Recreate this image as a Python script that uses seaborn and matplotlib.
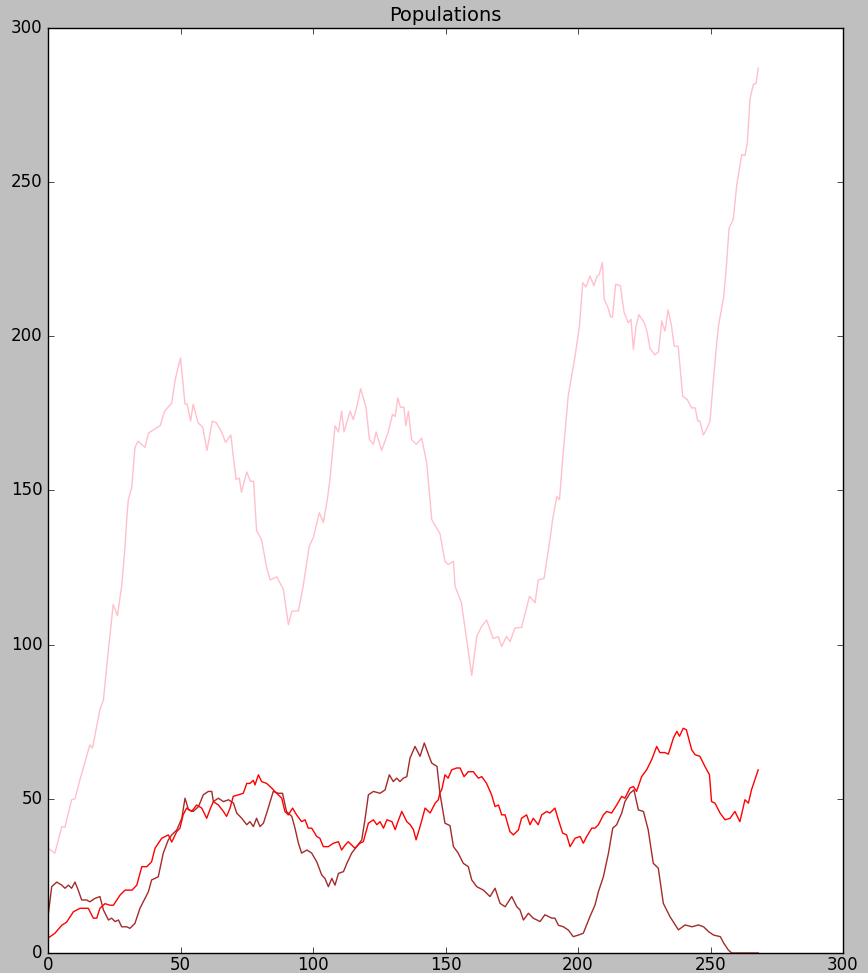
import matplotlib
matplotlib.use("Agg")
import matplotlib.pyplot as plt
import seaborn as sns
import pandas as pd

# ---- data ----
pink_t = [0, 2.6, 5.2, 6.4, 8.9, 10.2, 12, 15.8, 16.8, 19.6, 20.9, 22.8, 24.6, 26.2, 27.8, 29, 29.7, 30.3,
          31.6, 32.8, 34, 36.6, 37.9, 40.4, 42.3, 44, 46.7, 48, 50, 51.7, 52.5, 53.8, 54.8, 56.6, 58.4, 60,
          62, 63.5, 65.5, 67, 69, 70.2, 71, 72.2, 73, 75, 76.4, 77.6, 78, 78.7, 80.6, 82.5, 83.8, 86.3, 88.8,
          90.7, 92, 94.5, 96.3, 98.6, 100.1, 102.4, 103.9, 105.4, 106.4, 108.3, 109.6, 110.8, 111.7, 114,
          115.2, 116.5, 118, 120, 121.3, 122.8, 123.8, 125.9, 128.4, 130, 131, 132, 133, 134.3, 135, 136,
          137.2, 139, 141, 142.9, 144.8, 147.9, 149.8, 151, 153, 153.6, 156, 158, 159.9, 161.8, 163.7, 165.5,
          168, 169.9, 171.2, 173, 174.4, 176.2, 178.7, 180, 181.7, 183.8, 185, 187.2, 189.4, 190.5, 192, 193,
          194.4, 196.3, 197.6, 198.9, 200.5, 201.8, 203, 204.5, 206, 207.2, 208, 209.2, 209.9, 211.3, 212.3,
          213, 214.2, 216, 217.4, 219, 220, 220.9, 221.9, 223, 225, 226, 227.2, 229, 230.4, 231.6, 232.8, 234,
          235.3, 236.3, 237.8, 239.5, 241.2, 242.9, 244.2, 245.2, 246, 247.3, 248.6, 249.8, 250.8, 252, 253,
          255, 256, 257, 258.6, 259.9, 261.8, 263, 263.9, 264.9, 266.2, 267.2, 268]
pink_v = [34, 32.4, 41, 40.8, 49.7, 50, 56, 67.5, 66.5, 79, 82, 98.4, 113, 109.4, 119, 131, 140.6, 147,
          151, 164, 166, 164, 168.6, 170, 171, 175.7, 178.4, 186, 193, 178, 178, 172.5, 178, 172, 170.5, 163,
          172.5, 172, 169, 165.6, 168, 159, 153.6, 154, 149.4, 156, 153, 153, 147, 137, 134, 125, 121, 122, 118,
          106.5, 110.8, 111, 119, 132, 134.7, 142.8, 139.6, 147, 153.6, 171, 169, 175.7, 169, 175.7,
          173, 177, 183, 177, 166.5, 165, 169, 163, 169, 174.7, 174, 180, 177, 177, 171, 175.7,
          166.5, 165, 167, 159, 140.6, 136, 127, 126, 127, 119, 113.6, 101.6, 90, 102.7, 106, 108,
          102, 102.6, 99.4, 102.7, 101, 105.4, 105.6, 110, 115.7, 113.6, 121, 121.5, 134, 141, 148, 147,
          162, 180.6, 187, 193.6, 203, 217.4, 216, 219.6, 216.4, 219.6, 220, 224, 212, 209.3, 206.3,
          206.3, 216.9, 216.4, 207.7, 204.4, 205.5, 195.8, 203.3, 207, 204.4, 201.7, 196, 194, 195, 205, 201.7, 208.6,
          203.3, 196.8, 196.8, 180.6, 179.5, 176.8, 176.8, 172.5, 172.5, 168, 170, 172.5, 182.8, 194.7, 203.3,
          213, 222.8, 235, 238, 249, 259, 258.6, 262.8, 277, 281.8, 282, 287]

red_t = [0, 2.6, 5.2, 7, 9.6, 12.1, 15.2, 17.1, 18.4, 19.6, 21.5, 23.4, 24.7, 27.2, 29.1, 31.7, 33.5, 35.4,
         37.3, 39.1, 40.4, 42.9, 45.4, 46.7, 48.6, 49.8, 51, 52.3, 54.2, 56.1, 58, 59.9, 61.1, 62.4, 64.3,
         66.2, 67.4, 68.7, 69.9, 71.8, 73.7, 75, 76.2, 77.5, 78.1, 79.4, 80.6, 82.5, 84.4, 86.3, 88.2, 89.4,
         90.7, 92.3, 93.8, 95.7, 97, 98.2, 99.5, 101.4, 102.6, 103.9, 105.8, 107.7, 109.6, 110.8, 112.1,
         113.3, 114.6, 115.8, 117.7, 119, 120.9, 122.8, 124.1, 125.3, 126.6, 127.9, 129.8, 131, 132.3,
         133.5, 135.4, 136.7, 137.9, 138.9, 140.4, 142.3, 144.2, 146.1, 147.3, 147.9, 148.6, 149.8, 151,
         152.3, 154.2, 155.5, 157, 158.6, 160.5, 162.4, 163.7, 165.5, 167.4, 168.7, 170, 171.2, 172.5, 174.3,
         175.6, 177.5, 178.7, 180.6, 181.9, 183.1, 185, 186.3, 188.2, 189.4, 191.3, 192.6, 194.2, 195.7, 197,
         198.9, 200.8, 202, 203.3, 205.2, 206.4, 207.7, 209.6, 210.8, 212.7, 214.6, 216.5, 217.7, 219.6,
         220.9, 222.1, 224, 225.9, 227.8, 229.7, 230.9, 232.8, 234.1, 236, 237.3, 238.3, 239.7, 240.9,
         242.9, 244.2, 246, 247.9, 249.6, 250.4, 251.7, 253.6, 255.5, 257.4, 259.2, 261.1, 263, 264.3,
         265.5, 268]
red_v = [4.8, 6.4, 9, 10, 13.4, 14.5, 14.5, 11.3, 11.3, 14.5, 16, 15.5, 15.5, 18.8, 20.4, 20.4, 22, 28,
         28, 29.6, 34, 37.2, 38.3, 36, 39.4, 40.5, 44.8, 47, 45.9, 48, 47, 43.7, 46.5, 49.1, 48,
         45.9, 44.3, 47, 50.8, 51.3, 51.8, 55, 55, 56, 54.5, 57.8, 55.6, 55, 53.5, 51.8, 50.2, 45.9,
         44.8, 47, 44.8, 42.6, 43.2, 40.5, 40.5, 37.8, 37.2, 34.5, 34.5, 35.6, 36.1, 33.4, 35,
         36.1, 35, 34, 35.6, 36.1, 42.1, 43.2, 41.6, 42.6, 40.5, 43.2, 42.6, 40, 43.2,
         45.9, 42.6, 41.6, 40, 36.7, 41, 47, 45.4, 48.6, 49.7, 52, 53, 57.8, 56.7,
         59.4, 60, 60, 57.2, 58.8, 58.8, 56.7, 57.2, 55, 51.3, 47.5, 48, 44.8, 44.8, 39.4,
         38.3, 39.9, 43.7, 44.8, 41.6, 43.7, 41.6, 44.8, 45.9, 45.4, 47, 43.2, 38.9, 38.3, 34.5,
         37.2, 37.8, 35.6, 37.8, 40.5, 40.5, 41.6, 44.8, 45.9, 45.4, 48, 50.8, 50.2, 53.5,
         54, 52.4, 57.2, 59.4, 62.7, 67, 65, 65, 64.5, 69.7, 71.9, 70.3, 72.9, 72.4,
         65.9, 64.3, 63.8, 60.5, 57.8, 49.1, 48.6, 45.4, 43.2, 43.7, 45.9, 42.6, 49.7, 48.6,
         53, 59.4]

brown_t = [0, 1.4, 3.3, 5.2, 6.4, 7.7, 8.9, 10.2, 11.4, 12.7, 14.6, 15.8, 17.7, 19.6, 20.9, 22.8, 24, 25.3,
           26.6, 27.8, 29.7, 30.9, 32.8, 34.7, 36.6, 37.9, 39.1, 40.4, 41.6, 43.5, 45.4, 46.7, 48.6, 50.5,
           51.7, 53, 54.8, 56.8, 58.6, 60.5, 61.8, 62.4, 64.3, 66.2, 68.1, 70, 71.2, 73.1, 75, 76.2, 77.5,
           78.7, 80, 81.3, 83.1, 85, 86.9, 88.5, 90, 92, 93.2, 94.5, 95.7, 97.7, 99.5, 101.4, 103.3, 104.5,
           105.8, 107.1, 108.3, 109.6, 111.5, 112.8, 114.6, 116.5, 118.4, 119.6, 120.9, 122.8, 125.3, 127.2,
           128.8, 130.3, 131.6, 132.8, 134.1, 135.4, 136.6, 138.5, 140.4, 142, 143.6, 144.8, 146.8, 147.9,
           149.8, 151.7, 153, 154.8, 156.7, 158.6, 159.9, 161.8, 164.3, 166.8, 168.7, 170.6, 172.5, 175,
           176.9, 178.1, 179.4, 181.3, 183.1, 185.7, 187.5, 190.1, 191.3, 192.6, 194.5, 196.4, 198.2, 200.1,
           202, 204.5, 206.4, 207.7, 209.6, 211.5, 213.1, 214.6, 216.5, 217.7, 219.6, 221.1, 222.8, 224.7,
           226.5, 228.4, 230.3, 232.2, 234.7, 237.9, 240.4, 243, 245.5, 247.4, 249.3, 251.2, 253.7, 255,
           256.7, 258, 268]
brown_v = [11.8, 21.5, 23, 22, 21, 22, 21, 23, 20.4, 17.2, 17.2, 16.6, 17.7, 18.3, 14, 10.7, 11.3, 10.2,
           10.7, 8.5, 8.5, 8, 9.6, 14.5, 17.7, 19.9, 23.7, 24.2, 24.7, 32.4, 36.7, 38.3, 39.9, 43.7,
           50.2, 46.5, 45.9, 47.5, 51.3, 52.4, 52.4, 49.1, 50.2, 49.1, 49.7, 48.6, 45.4, 43.7, 41.6, 42.6, 41,
           43.7, 41, 42.1, 47, 52.4, 51.8, 51.8, 45.9, 44.3, 40.5, 35.6, 32.4, 33.4, 32.4, 29.6, 25.3, 24.2,
           21.5, 24.2, 22, 25.8, 26.4, 29.1, 32.4, 34.5, 36.7, 43.2, 51.3, 52.4, 51.8, 52.9,
           57.8, 55.6, 56.7, 55.6, 56.7, 57.2, 63.2, 67, 63.8, 68.1, 64.3, 61.6, 60.5, 51.8,
           42.1, 41.3, 34.5, 32.4, 29.1, 28, 23.7, 21.5, 20.4, 18.3, 21, 16.1, 15, 18.3,
           15, 14, 10.7, 12.9, 11.3, 10.2, 12.4, 11.3, 11.3, 9, 8.5, 7.4, 5.3, 5.8,
           6.4, 11.8, 15.5, 19.9, 24.8, 32.4, 40.5, 41.6, 45.4, 49.1, 51.8, 52.9, 46.4, 45.9,
           39.9, 29.1, 27.5, 16.1, 11.8, 7.5, 9.1, 8.5, 9.1, 8.5, 6.9, 5.8, 5.3, 3.2,
           1, 0, 0]

series_names = ["pink", "brown", "red"]
series_colors = {"pink": "pink", "brown": "brown", "red": "red"}

frames = []
for name, t, v in [("pink", pink_t, pink_v), ("brown", brown_t, brown_v), ("red", red_t, red_v)]:
    frames.append(pd.DataFrame({"t": t, "pop": v, "series": name, "order": range(len(t))}))
df = pd.concat(frames, ignore_index=True)

plt.style.use("classic")
fig = plt.figure(figsize=(8.68, 9.73), dpi=100, facecolor="#bfbfbf")
ax = fig.add_axes([48 / 868, 20 / 973, 795 / 868, 925 / 973])

for name in series_names:
    sub = df[df["series"] == name]
    sns.lineplot(data=sub, x="t", y="pop", color=series_colors[name], sort=False,
                 estimator=None, linewidth=1.0, ax=ax, legend=False)

ax.set_xlim(0, 300)
ax.set_ylim(0, 300)
ax.set_xticks([0, 50, 100, 150, 200, 250, 300])
ax.set_yticks([0, 50, 100, 150, 200, 250, 300])
ax.set_xlabel("")
ax.set_ylabel("")
ax.set_title("Populations", fontsize=14)
ax.tick_params(labelsize=12)
ax.tick_params(axis="x", pad=2)

fig.savefig("out.png", dpi=100, facecolor=fig.get_facecolor())
